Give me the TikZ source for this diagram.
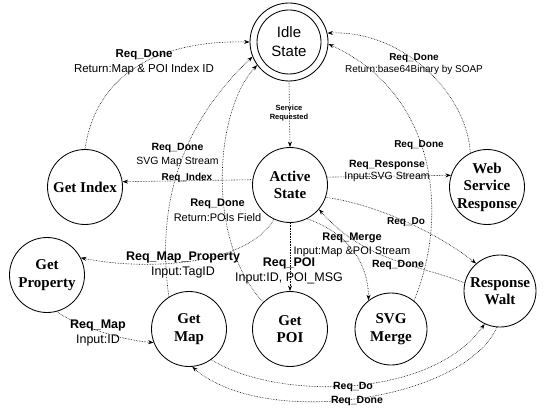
\documentclass[tikz,border=0pt]{standalone}
\usepackage{fontspec}
\setmainfont{Liberation Serif}
\setsansfont{Liberation Sans}
\usetikzlibrary{arrows.meta}
% centred line of zero width, so long words may run past the circle
\newcommand\ctrtxt[1]{\makebox[0pt][c]{#1}}
\begin{document}
\begin{tikzpicture}[x=1pt,y=-1pt,
  state/.style={circle,draw,line width=0.85pt,minimum size=75pt,inner sep=0pt,align=center,
    font=\bfseries\fontsize{15}{17.5}\selectfont},
  flow/.style={densely dotted,line width=0.6pt,-{Stealth[length=5.5pt,width=4pt]}},
  lab/.style 2 args={inner sep=0pt,align=center,font=\sffamily\fontsize{#1}{#2}\selectfont},
  tinylab/.style={inner sep=0pt,align=center,font=\sffamily\bfseries\fontsize{7.5}{9.5}\selectfont}]
\useasboundingbox (0,0) rectangle (546,409);

% states
\node[state,minimum size=78pt,font=\sffamily\fontsize{15}{19}\selectfont] (idle) at (289,42) {Idle\\State};
\node[circle,draw,line width=0.85pt,minimum size=64pt] (idlein) at (idle.center) {};
\node[state] (active) at (290,185) {Active\\State};
\node[state] (getindex) at (85,187) {Get Index};
\node[state] (wsr) at (487,187) {\ctrtxt{Web}\\\ctrtxt{Service}\\\ctrtxt{Response}};
\node[state,minimum size=72pt] (rwalt) at (500,291) {\ctrtxt{Response}\\Walt};
\node[state,minimum size=72pt] (svgmerge) at (391,329) {SVG\\Merge};
\node[state] (getpoi) at (290,329) {Get\\POI};
\node[state] (getmap) at (189,329) {Get\\Map};
\node[state] (getprop) at (47,275) {Get\\Property};

% transitions
\draw[flow] (idle.south) -- (active.north);
\draw[flow] (getindex.90) .. controls (95,80) and (150,40) .. (idle.180);
\draw[flow] (active.172) -- (getindex.8);
\draw[flow] (getmap.122) .. controls (155,200) and (185,120) .. (idle.202);
\draw[flow] (getpoi.135) .. controls (205,240) and (215,110) .. (idle.216);
\draw[flow] (active.12) -- (wsr.162);
\draw[flow] (wsr.116) .. controls (466,90) and (400,30) .. (idle.13);
\draw[flow] (svgmerge.51) .. controls (448,220) and (440,95) .. (idle.357);
\draw[flow] (active.341) .. controls (380,205) and (440,235) .. (rwalt.131);
\draw[flow] (rwalt.167) .. controls (420,265) and (365,262) .. (active.320);
\draw[flow] (active.297) .. controls (345,232) and (368,260) .. (svgmerge.128);
\draw[flow] (active.south) -- (getpoi.north);
\draw[flow] (active.245) .. controls (245,268) and (140,270) .. (getprop.27);
\draw[flow] (getprop.285) .. controls (75,325) and (120,340) .. (getmap.201);
\draw[flow] (getmap.306) .. controls (275,400) and (430,400) .. (rwalt.245);
\draw[flow] (rwalt.265) .. controls (465,400) and (265,430) .. (getmap.275);

% transition labels
\node[tinylab] (lsvc) at (289,113) {Service\\Requested};
\node[lab={11.5}{15}] (lidx) at (144,62.5) {\textbf{Req\_Done}\\Return:Map \& POI Index ID};
\node[lab={10.5}{14}] (lmapd) at (177.5,155) {\textbf{Req\_Done}\\SVG Map Stream};
\node[lab={10}{12}] (lreqidx) at (187,178) {\textbf{Req\_Index}};
\node[lab={11}{15}] (lpoid) at (217.5,210.5) {\textbf{Req\_Done}\\Return:POIs Field};
\node[lab={10.5}{12}] (lresp) at (387,171) {\textbf{Req\_Response}\\Input:SVG Stream};
\node[lab={10}{12}] (lsoap) at (414,64) {\textbf{Req\_Done}\\Return:base64Binary by SOAP};
\node[lab={10}{12}] (lmrgd) at (419,145) {\textbf{Req\_Done}};
\node[lab={10}{12}] (ldo) at (406,222) {\textbf{Req\_Do}};
\node[lab={11}{14}] (lmrg) at (352,245) {\textbf{Req\_Merge}\\Input:Map \&POI Stream};
\node[lab={10.5}{12}] (lwd) at (398,265) {\textbf{Req\_Done}};
\node[lab={12.5}{15}] (lpoi) at (289,270.5) {\textbf{Req\_POI}\\Input:ID, POI\_MSG};
\node[lab={12.5}{15}] (lprop) at (183,264.5) {\textbf{Req\_Map\_Property}\\Input:TagID};
\node[lab={12.5}{15}] (lmap) at (98,332.5) {\textbf{Req\_Map}\\Input:ID};
\node[lab={10.5}{12}] (ldo2) at (353,387) {\textbf{Req\_Do}};
\node[lab={10.5}{12}] (ldone2) at (357,401) {\textbf{Req\_Done}};
\end{tikzpicture}
\end{document}
